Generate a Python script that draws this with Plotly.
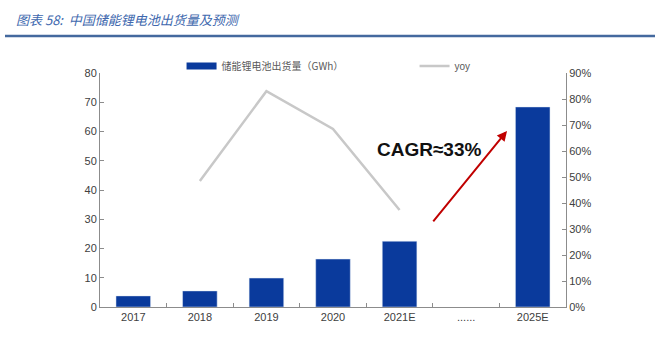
import plotly.graph_objects as go

categories = ["2017", "2018", "2019", "2020", "2021E", "......", "2025E"]
shipments = [3.8, 5.5, 9.9, 16.4, 22.5, None, 68.4]
yoy = [None, 0.485, 0.83, 0.685, 0.373, None, None]

bar_name = "储能锂电池出货量（GWh）"
line_name = "yoy"
title_text = "图表 58:  中国储能锂电池出货量及预测"
cagr_text = "CAGR≈33%"

BLUE = "#0A3A9C"
GREY_LINE = "#C8C8C8"
AX = "#8C8C8C"
TXT = "#404040"

fig = go.Figure()
fig.add_trace(go.Bar(x=categories, y=shipments, marker_color=BLUE, width=0.52,
                     showlegend=False, name=bar_name))
# legend proxy for the bar series (wide rectangle symbol)
fig.add_trace(go.Scatter(x=[None], y=[None], mode="lines", name=bar_name,
                         line=dict(color=BLUE, width=7), legend="legend"))
fig.add_trace(go.Scatter(x=categories, y=yoy, mode="lines", name=line_name,
                         line=dict(color=GREY_LINE, width=2.5), yaxis="y2",
                         connectgaps=False, legend="legend2"))

fig.update_layout(
    width=668, height=352,
    margin=dict(l=100, r=102, t=73, b=45),
    paper_bgcolor="white", plot_bgcolor="white",
    font=dict(family="Liberation Sans, Arial, sans-serif", size=11, color=TXT),
    xaxis=dict(type="category", showline=True, linecolor=AX, linewidth=1,
               ticks="inside", ticklen=4, tickcolor=AX, tickson="boundaries",
               showgrid=False, tickfont=dict(size=11, color=TXT)),
    yaxis=dict(range=[0, 80], dtick=10, showline=True, linecolor=AX, linewidth=1,
               ticks="inside", ticklen=4, tickcolor=AX, showgrid=False, zeroline=False,
               tickfont=dict(size=11, color=TXT)),
    yaxis2=dict(range=[0, 0.9], dtick=0.1, tickformat=".0%", overlaying="y", side="right",
                showline=True, linecolor=AX, linewidth=1, ticks="inside", ticklen=4,
                tickcolor=AX, showgrid=False, zeroline=False,
                tickfont=dict(size=11, color=TXT)),
    legend=dict(x=0.175, y=1.03, xanchor="left", yanchor="middle", orientation="h",
                font=dict(family="Noto Sans CJK SC", size=10, color="#595959"),
                bgcolor="rgba(0,0,0,0)", itemwidth=30),
    legend2=dict(x=0.675, y=1.03, xanchor="left", yanchor="middle", orientation="h",
                 font=dict(family="Liberation Sans", size=10, color="#595959"),
                 bgcolor="rgba(0,0,0,0)", itemwidth=30),
)

fig.add_annotation(x=-0.1845, y=1.2265, xref="paper", yref="paper", xanchor="left",
                   yanchor="middle", showarrow=False,
                   text="<i>" + title_text + "</i>",
                   font=dict(family="Noto Sans CJK SC", size=13, color="#4068AE"))
fig.add_shape(type="line", xref="paper", yref="paper",
              x0=(5 - 100) / 466, x1=(655 - 100) / 466,
              y0=(307 - 36) / 234, y1=(307 - 36) / 234,
              line=dict(color="#44699E", width=2.5))

fig.add_annotation(x=0.708, y=0.671, xref="paper", yref="paper", showarrow=False,
                   xanchor="center", yanchor="middle",
                   text="<b>" + cagr_text + "</b>",
                   font=dict(family="Liberation Sans, Arial", size=19, color="#111111"))
fig.add_annotation(x=5.614, y=60.2, xref="x", yref="y", ax=-75, ay=92,
                   showarrow=True, arrowhead=2, arrowsize=1, arrowwidth=2,
                   arrowcolor="#C00000", text="")

fig.write_html("out.html")
